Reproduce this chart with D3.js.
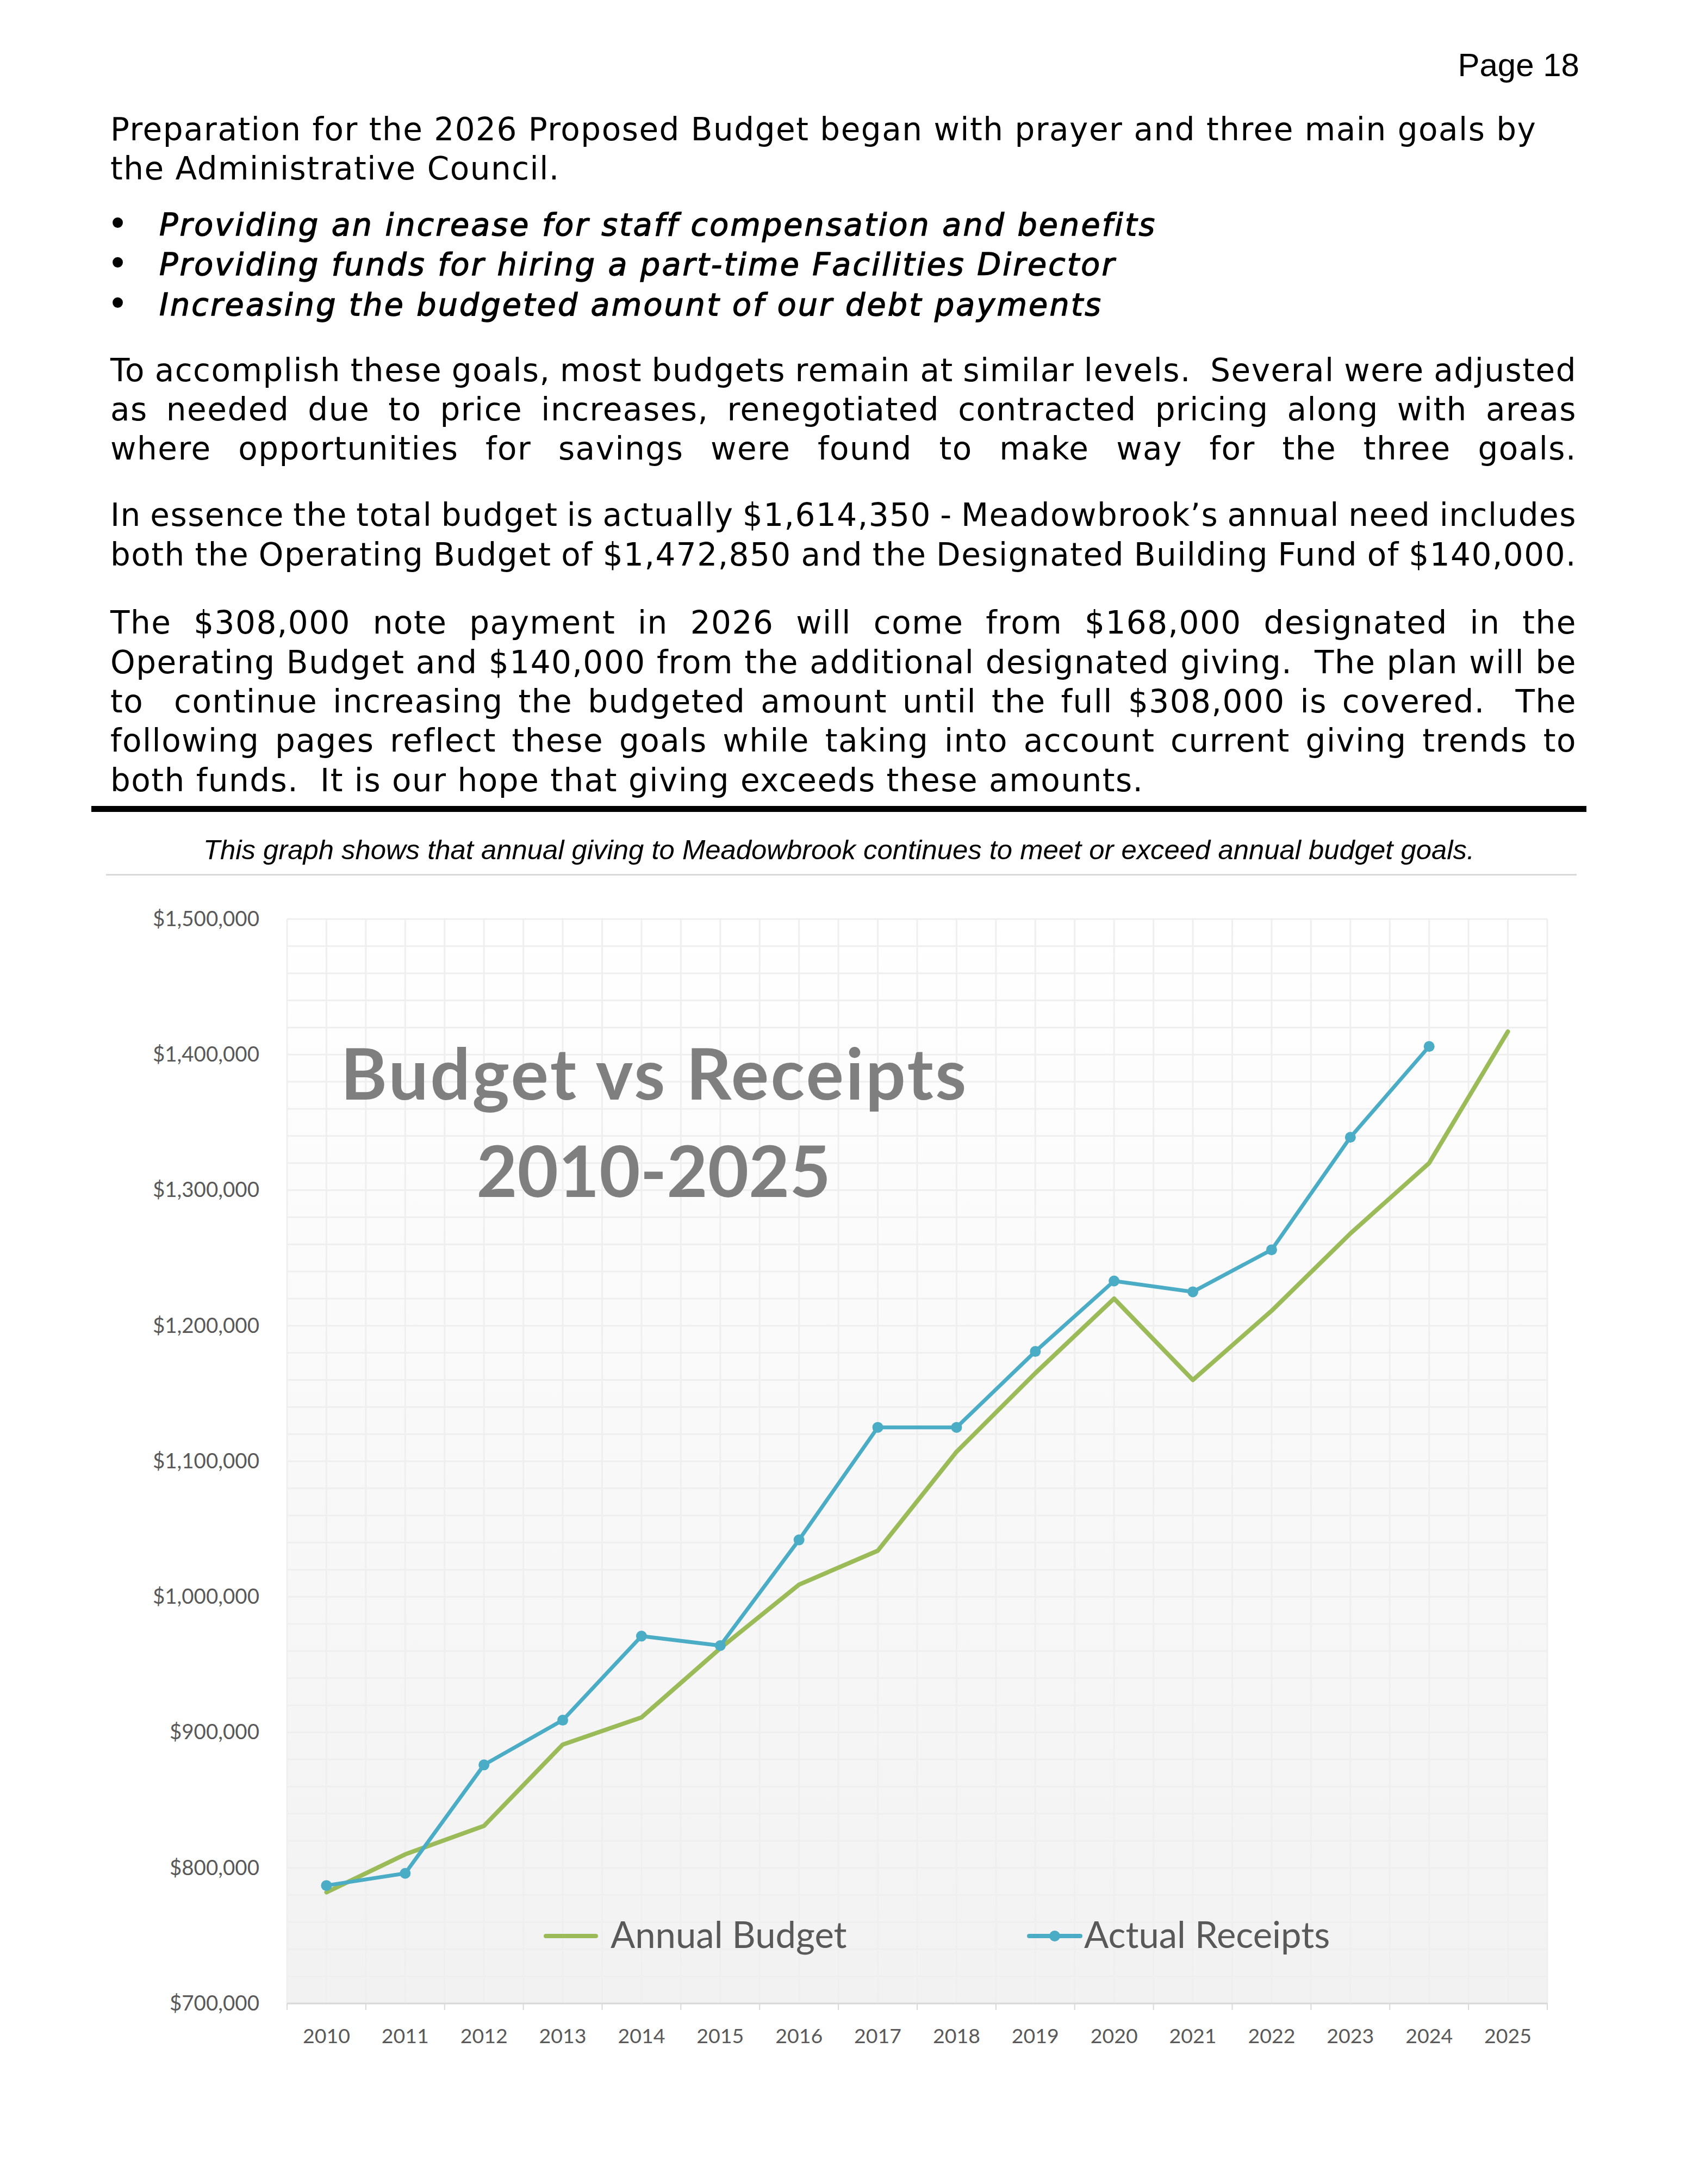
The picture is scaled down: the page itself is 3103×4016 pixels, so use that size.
<!DOCTYPE html>
<html><head><meta charset="utf-8">
<script src="https://cdn.jsdelivr.net/npm/d3@7"></script>
<style>
html,body{margin:0;padding:0;background:#fff;}
svg{display:block;}
</style></head>
<body>
<svg id="page" width="3103" height="4016" xmlns="http://www.w3.org/2000/svg"></svg>
<script>
// ---------- DATA ----------
const years = ["2010","2011","2012","2013","2014","2015","2016","2017","2018","2019","2020","2021","2022","2023","2024","2025"];
const annualBudget = [782000, 810000, 831000, 891000, 911000, 962000, 1009000, 1034000, 1107000, 1165000, 1220000, 1160000, 1211000, 1268000, 1320000, 1417000];
const actualReceipts = [787000, 796000, 876000, 909000, 971000, 964000, 1042000, 1125000, 1125000, 1181000, 1233000, 1225000, 1256000, 1339000, 1406000];
const yTickValues = [700000, 800000, 900000, 1000000, 1100000, 1200000, 1300000, 1400000, 1500000];
const seriesNames = ["Annual Budget", "Actual Receipts"];
const chartTitleLines = ["Budget vs Receipts", "2010-2025"];
const pageLabel = "Page 18";
const captionText = "This graph shows that annual giving to Meadowbrook continues to meet or exceed annual budget goals.";
const para1 = [
  ["Preparation for the 2026 Proposed Budget began with prayer and three main goals by", false],
  ["the Administrative Council.", false]
];
const bulletItems = [
  "Providing an increase for staff compensation and benefits",
  "Providing funds for hiring a part-time Facilities Director",
  "Increasing the budgeted amount of our debt payments"
];
const para2 = [
  ["To accomplish these goals, most budgets remain at similar levels.  Several were adjusted", true],
  ["as needed due to price increases, renegotiated contracted pricing along with areas", true],
  ["where opportunities for savings were found to make way for the three goals.", true]
];
const para3 = [
  ["In essence the total budget is actually $1,614,350 - Meadowbrook\u2019s annual need includes", true],
  ["both the Operating Budget of $1,472,850 and the Designated Building Fund of $140,000.", true]
];
const para4 = [
  ["The $308,000 note payment in 2026 will come from $168,000 designated in the", true],
  ["Operating Budget and $140,000 from the additional designated giving.  The plan will be", true],
  ["to  continue increasing the budgeted amount until the full $308,000 is covered.  The", true],
  ["following pages reflect these goals while taking into account current giving trends to", true],
  ["both funds.  It is our hope that giving exceeds these amounts.", false]
];

// ---------- STYLE ----------
const BODY_FONT = "'DejaVu Sans', sans-serif";
const CHART_FONT = "Lato, 'Open Sans', sans-serif";
const GREEN = "#9bbb59", BLUE = "#4bacc6", AXIS_TEXT = "#595959";

const svg = d3.select("#page");
svg.append("rect").attr("width", 3103).attr("height", 4016).attr("fill", "#fff");

// ---------- PAGE TEXT ----------
svg.append("text").attr("x", 2905).attr("y", 140).attr("text-anchor", "end")
  .attr("font-family", "'Liberation Sans', Arial, sans-serif").attr("font-size", 60)
  .attr("fill", "#000").text(pageLabel);

const textLeft = 203, textRight = 2900;
function addLine(str, y, justify, opts = {}) {
  const x0 = opts.x || textLeft;
  const t = svg.append("text")
    .attr("x", x0).attr("y", y)
    .attr("xml:space", "preserve").style("white-space", "pre")
    .attr("font-family", BODY_FONT).attr("font-size", opts.size || 58)
    .style("letter-spacing", (opts.ls != null ? opts.ls : 1.5) + "px")
    .attr("fill", "#000").text(str);
  if (opts.italic) t.attr("font-style", "italic");
  if (justify) {
    const w = t.node().getComputedTextLength();
    const n = (str.match(/ /g) || []).length;
    if (n > 0) t.style("word-spacing", ((textRight - x0 - w) / n) + "px");
  }
  return t;
}
const para1Y = [258, 330];
para1.forEach((l, i) => addLine(l[0], para1Y[i], l[1]));
const bulletY = [433, 506, 580];
bulletItems.forEach((b, i) => {
  svg.append("text").attr("x", 205).attr("y", bulletY[i] - 2).attr("font-family", "'Liberation Sans', Arial, sans-serif")
    .attr("font-size", 66).attr("font-weight", 700).attr("fill", "#000").text("\u2022");
  addLine(b, bulletY[i], false, {x: 293, italic: true, size: 57, ls: 3.2})
    .attr("stroke", "#000").attr("stroke-width", 1.4);
});
const para2Y = [701, 773, 845];
para2.forEach((l, i) => addLine(l[0], para2Y[i], l[1]));
const para3Y = [967, 1040];
para3.forEach((l, i) => addLine(l[0], para3Y[i], l[1]));
const para4Y = [1165, 1238, 1310, 1382, 1455];
para4.forEach((l, i) => addLine(l[0], para4Y[i], l[1]));

// rules
svg.append("rect").attr("x", 168).attr("y", 1482).attr("width", 2750).attr("height", 11).attr("fill", "#000");
svg.append("text").attr("x", 1543).attr("y", 1580).attr("text-anchor", "middle")
  .attr("font-family", "'Liberation Sans', Arial, sans-serif").attr("font-style", "italic")
  .attr("font-size", 50.8).attr("fill", "#000").text(captionText);
svg.append("rect").attr("x", 195).attr("y", 1607).attr("width", 2705).attr("height", 3).attr("fill", "#d9d9d9");

// ---------- CHART ----------
const plot = {left: 528, right: 2846, top: 1690, bottom: 3684};
const x = d3.scaleBand().domain(years).range([plot.left, plot.right]).padding(0);
const y = d3.scaleLinear().domain([700000, 1500000]).range([plot.bottom, plot.top]);
const bw = x.bandwidth();

const defs = svg.append("defs");
const grad = defs.append("linearGradient").attr("id", "bg").attr("x1", 0).attr("y1", 0).attr("x2", 0).attr("y2", 1);
grad.append("stop").attr("offset", "0%").attr("stop-color", "#ffffff");
grad.append("stop").attr("offset", "100%").attr("stop-color", "#f2f2f2");

svg.append("rect").attr("x", plot.left).attr("y", plot.top)
  .attr("width", plot.right - plot.left).attr("height", plot.bottom - plot.top).attr("fill", "url(#bg)");

const grid = svg.append("g").attr("stroke", "#efefef").attr("stroke-width", 3);
const minorY = d3.range(700000, 1500001, 20000);
grid.selectAll("line.h").data(minorY).join("line")
  .attr("x1", plot.left).attr("x2", plot.right).attr("y1", d => y(d)).attr("y2", d => y(d));
const vx = [];
years.forEach(yr => { vx.push(x(yr)); vx.push(x(yr) + bw / 2); });
vx.push(plot.right);
grid.selectAll("line.v").data(vx).join("line")
  .attr("x1", d => d).attr("x2", d => d).attr("y1", plot.top).attr("y2", plot.bottom);

// axes
const yAxis = d3.axisLeft(y).tickValues(yTickValues).tickFormat(d3.format("$,.0f")).tickSize(0).tickPadding(51);
const gy = svg.append("g").attr("transform", `translate(${plot.left},0)`).call(yAxis);
gy.select(".domain").remove();
gy.selectAll("text").attr("font-family", CHART_FONT).attr("font-size", 38.5).attr("fill", AXIS_TEXT);

const xAxis = d3.axisBottom(x).tickSize(0).tickPadding(46);
const gx = svg.append("g").attr("transform", `translate(0,${plot.bottom})`).call(xAxis);
gx.select(".domain").remove();
gx.selectAll("text").attr("font-family", CHART_FONT).attr("font-size", 37.5).attr("fill", AXIS_TEXT);
svg.append("line").attr("x1", plot.left).attr("x2", plot.right).attr("y1", plot.bottom).attr("y2", plot.bottom)
  .attr("stroke", "#d9d9d9").attr("stroke-width", 3);
const tickX = years.map(yr => x(yr)).concat([plot.right]);
svg.append("g").selectAll("line").data(tickX).join("line")
  .attr("x1", d => d).attr("x2", d => d).attr("y1", plot.bottom).attr("y2", plot.bottom + 12)
  .attr("stroke", "#d9d9d9").attr("stroke-width", 2);

// title
const titleG = svg.append("g").attr("font-family", CHART_FONT).attr("font-weight", 700).attr("fill", "#7f7f7f").attr("text-anchor", "middle");
const titleY = [2022, 2201];
const titleSpacing = [3.5, 0];
chartTitleLines.forEach((t, i) => titleG.append("text").attr("x", 1202 + titleSpacing[i] / 2).attr("y", titleY[i])
  .attr("font-size", 130).style("letter-spacing", titleSpacing[i] + "px").text(t));

// lines
const cx = (yr) => x(yr) + bw / 2;
const lineGen = d3.line().x(d => cx(d[0])).y(d => y(d[1]));
const budgetPts = years.map((yr, i) => [yr, annualBudget[i]]);
const receiptPts = actualReceipts.map((v, i) => [years[i], v]);
svg.append("path").attr("d", lineGen(budgetPts)).attr("fill", "none").attr("stroke", GREEN)
  .attr("stroke-width", 8).attr("stroke-linejoin", "round").attr("stroke-linecap", "round");
svg.append("path").attr("d", lineGen(receiptPts)).attr("fill", "none").attr("stroke", BLUE)
  .attr("stroke-width", 7).attr("stroke-linejoin", "round").attr("stroke-linecap", "round");
svg.append("g").selectAll("circle").data(receiptPts).join("circle")
  .attr("cx", d => cx(d[0])).attr("cy", d => y(d[1])).attr("r", 10).attr("fill", BLUE);

// legend
const leg = svg.append("g");
leg.append("line").attr("x1", 1004).attr("x2", 1096).attr("y1", 3560).attr("y2", 3560)
  .attr("stroke", GREEN).attr("stroke-width", 8).attr("stroke-linecap", "round");
leg.append("text").attr("x", 1123).attr("y", 3582).attr("font-family", CHART_FONT).attr("font-size", 67)
  .attr("fill", AXIS_TEXT).text(seriesNames[0]);
leg.append("line").attr("x1", 1893).attr("x2", 1987).attr("y1", 3560).attr("y2", 3560)
  .attr("stroke", BLUE).attr("stroke-width", 8).attr("stroke-linecap", "round");
leg.append("circle").attr("cx", 1940).attr("cy", 3560).attr("r", 10).attr("fill", BLUE);
leg.append("text").attr("x", 1994).attr("y", 3582).attr("font-family", CHART_FONT).attr("font-size", 67)
  .attr("fill", AXIS_TEXT).text(seriesNames[1]);
</script>
</body></html>
